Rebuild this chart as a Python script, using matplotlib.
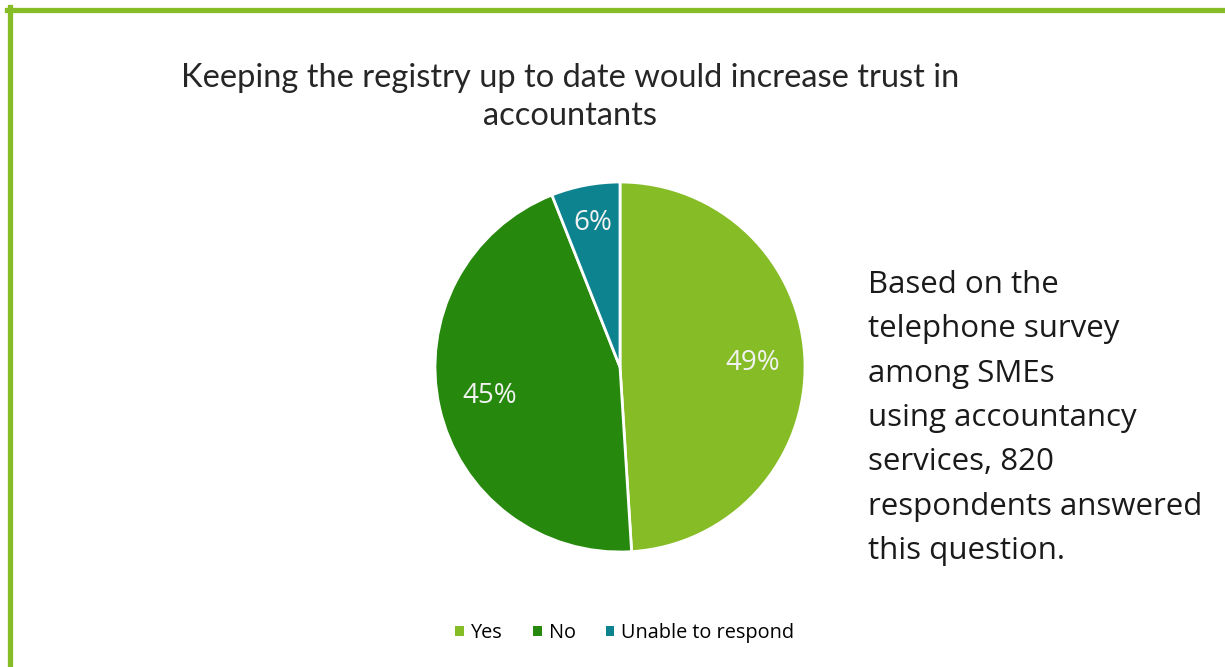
import matplotlib
matplotlib.use('Agg')
import matplotlib.pyplot as plt
from matplotlib.lines import Line2D
from matplotlib.patches import Patch

# survey answers
labels = ['Yes', 'No', 'Unable to respond']
shares = [49, 45, 6]
colors = ['#86BC25', '#26890D', '#0D8390']

title = 'Keeping the registry up to date would increase trust in\naccountants'
note = ('Based on the\ntelephone survey\namong SMEs\nusing accountancy\n'
        'services, 820\nrespondents answered\nthis question.')

W, H = 1225, 667
fig = plt.figure(figsize=(W / 100, H / 100), dpi=100)

# green frame on top and left
fig.add_artist(Line2D([7 / W, 1], [1 - 9.5 / H, 1 - 9.5 / H], color='#86BC25', lw=3.8,
                      transform=fig.transFigure))
fig.add_artist(Line2D([9.5 / W, 9.5 / W], [0, 1 - 7 / H], color='#86BC25', lw=3.8,
                      transform=fig.transFigure))

# pie
cx, cy, r = 620, 367, 185
ax = fig.add_axes([(cx - r) / W, 1 - (cy + r) / H, 2 * r / W, 2 * r / H])
wedges, texts, autotexts = ax.pie(
    shares, colors=colors, startangle=90, counterclock=False,
    autopct='%1.0f%%', pctdistance=0.72,
    wedgeprops=dict(edgecolor='white', linewidth=2),
    textprops=dict(color='#F2F2F2', fontsize=20, family='Open Sans'))
x6, y6 = autotexts[2].get_position()
autotexts[2].set_position((x6 * 1.1, y6 * 1.1))
ax.set_xlim(-1, 1)
ax.set_ylim(-1, 1)
ax.set_aspect('equal')
ax.axis('off')

fig.text(570 / W, 1 - 97 / H, title, ha='center', va='center', fontsize=23.5,
         family='Lato', color='#262626', linespacing=1.32)

fig.text(868 / W, 1 - 418 / H, note, ha='left', va='center', fontsize=22.5,
         family='Open Sans', color='#1a1a1a', linespacing=1.63)

handles = [Patch(facecolor=c, edgecolor='none') for c in colors]
fig.legend(handles, labels, loc='center', bbox_to_anchor=(625 / W, 1 - 633 / H),
           ncol=3, frameon=False, handlelength=0.45, handleheight=0.45,
           handletextpad=0.35, columnspacing=1.5,
           prop=dict(family='Open Sans', size=14.3))

fig.savefig('out.png', dpi=100, facecolor='white')
